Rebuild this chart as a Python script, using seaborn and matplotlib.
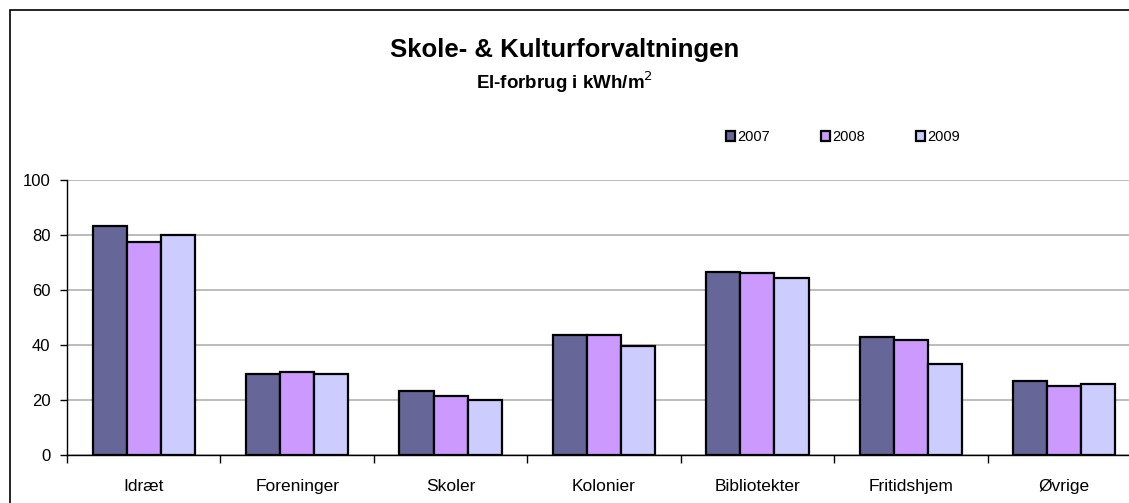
import numpy as np
import pandas as pd
import matplotlib
matplotlib.use("Agg")
import matplotlib.pyplot as plt
import seaborn as sns
from matplotlib.patches import Rectangle
from matplotlib.ticker import FixedLocator

# ---------------- data ----------------
categories = ["Idræt", "Foreninger", "Skoler", "Kolonier", "Bibliotekter", "Fritidshjem", "Øvrige"]
years = ["2007", "2008", "2009"]
v2007 = [83.3, 29.5, 23.4, 43.5, 66.5, 42.8, 27.0]
v2008 = [77.6, 30.2, 21.6, 43.8, 66.2, 41.7, 25.0]
v2009 = [79.9, 29.5, 20.1, 39.8, 64.5, 33.0, 25.7]

COLORS = ["#666699", "#CC99FF", "#CCCCFF"]

df = pd.DataFrame({
    "Kategori": categories * 3,
    "Aar": [years[0]] * 7 + [years[1]] * 7 + [years[2]] * 7,
    "kWh": v2007 + v2008 + v2009,
})

# ---------------- style ----------------
sns.set_style("white")
plt.rcParams["font.family"] = ["Liberation Sans", "DejaVu Sans"]
plt.rcParams["text.color"] = "black"
plt.rcParams["xtick.color"] = "black"
plt.rcParams["ytick.color"] = "black"

fig = plt.figure(figsize=(11.29, 5.03), dpi=100)
ax = fig.add_axes([67 / 1129, 48 / 503, 1074 / 1129, 275 / 503])

sns.barplot(
    data=df, x="Kategori", y="kWh", hue="Aar",
    order=categories, hue_order=years, palette=COLORS,
    width=0.667, edgecolor="black", linewidth=1.6,
    saturation=1, ax=ax, legend=True,
)

ax.set_ylim(0, 100)
ax.set_xlim(-0.5, 6.5)
ax.set_yticks([0, 20, 40, 60, 80, 100])
ax.yaxis.grid(True, color="#b0b0b0", linewidth=1.2)
ax.set_axisbelow(True)
ax.set_xlabel("")
ax.set_ylabel("")

for s in ["top", "right"]:
    ax.spines[s].set_visible(False)
for s in ["left", "bottom"]:
    ax.spines[s].set_color("black")
    ax.spines[s].set_linewidth(1.0)

ax.tick_params(axis="y", which="major", length=5, width=1,
               labelsize=12, pad=7, left=True, direction="out")
ax.tick_params(axis="x", which="major", length=0, labelsize=12.5, pad=17)
ax.xaxis.set_minor_locator(FixedLocator(np.arange(-0.5, 7.0, 1.0)))
ax.tick_params(axis="x", which="minor", length=6, width=1,
               bottom=True, direction="out")

# legend
handles, labels = ax.get_legend_handles_labels()
ax.legend_.remove()
fig.legend(handles, labels, loc="center", bbox_to_anchor=(843 / 1129, 1 - 137 / 503),
           ncol=3, frameon=False, fontsize=10.5, handlelength=0.6, handleheight=0.7,
           handletextpad=0.15, columnspacing=3.5)

# titles
fig.text(0.5, 1 - 50 / 503, "Skole- & Kulturforvaltningen", ha="center", va="center",
         fontsize=18.5, fontweight="bold")
fig.text(0.5, 1 - 82 / 503, "El-forbrug i kWh/m$^2$", ha="center", va="center",
         fontsize=13.5, fontweight="bold")

# outer chart border
fig.patches.append(Rectangle((10 / 1129, -0.1), 1.2, 1 - 10 / 503 + 0.1,
                             transform=fig.transFigure, fill=False,
                             edgecolor="black", linewidth=1.2))

fig.savefig("out.png", dpi=100, facecolor="white")
